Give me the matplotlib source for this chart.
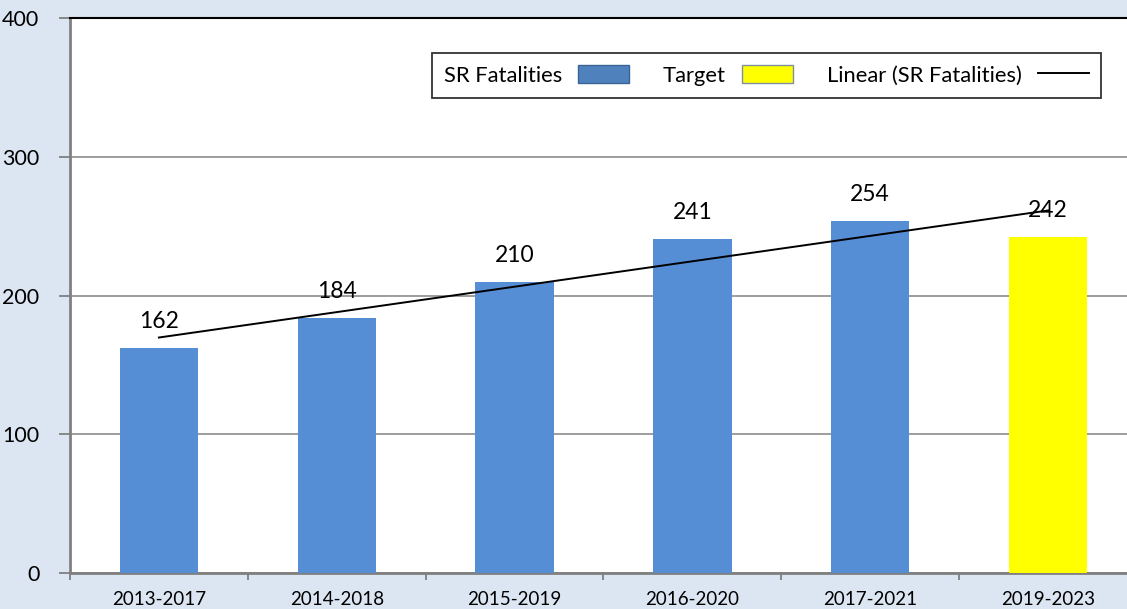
import numpy as np
import matplotlib.pyplot as plt
from matplotlib.patches import Patch
from matplotlib.lines import Line2D

periods = ['2013-2017', '2014-2018', '2015-2019', '2016-2020', '2017-2021', '2019-2023']
fatalities = [162, 184, 210, 241, 254, 242]
bar_colors = ['#558ed5'] * 5 + ['#ffff00']

plt.rcParams['font.family'] = ['Lato', 'DejaVu Sans']

fig = plt.figure(figsize=(11.27, 6.09), dpi=100, facecolor='#dce6f2')
ax = fig.add_axes([70 / 1127, 1 - 573 / 609, 1067 / 1127, 555 / 609])
ax.set_facecolor('white')

x = np.arange(len(periods))
ax.bar(x, fatalities, width=0.44, color=bar_colors, zorder=3)

# linear trend over all bars
k, b = np.polyfit(x, fatalities, 1)
ax.plot([x[0], x[-1]], [k * x[0] + b, k * x[-1] + b], color='black', lw=1.4, zorder=4)

for xi, v in zip(x, fatalities):
    ax.text(xi, v + 19, str(v), ha='center', va='center', fontsize=16.5, zorder=5)

ax.set_xlim(-0.5, 5.5)
ax.set_ylim(0, 400)
ax.set_yticks([0, 100, 200, 300, 400])
ax.set_xticks(x)
ax.set_xticklabels(periods, fontsize=13.5)
ax.set_xticks(np.arange(-0.5, 6, 1), minor=True)
ax.tick_params(axis='x', which='major', length=0, pad=13)
ax.tick_params(axis='x', which='minor', length=5, color='#808080', width=1.3)
ax.tick_params(axis='y', length=8, color='#808080', width=1.3, labelsize=15.5, pad=14)
ax.grid(axis='y', color='#8c8c8c', lw=1.2, zorder=0)

for s in ['left', 'bottom']:
    ax.spines[s].set_color('#808080')
    ax.spines[s].set_linewidth(2)
ax.spines['top'].set_color('black')
ax.spines['top'].set_linewidth(1.5)
ax.spines['right'].set_visible(False)

handles = [Patch(facecolor='#4f81bd', edgecolor='#3a6494'),
           Patch(facecolor='#ffff00', edgecolor='#7f8f9f'),
           Line2D([0], [0], color='black', lw=1.4)]
labels = ['SR Fatalities', 'Target', 'Linear (SR Fatalities)']
leg = ax.legend(handles, labels, ncol=3, markerfirst=False, loc='upper left',
                bbox_to_anchor=(0.339, 0.852, 0.627, 0.085), mode='expand',
                fontsize=15.8, frameon=True,
                fancybox=False, edgecolor='black', handlelength=2.3,
                handleheight=0.9, handletextpad=0.75, columnspacing=0.9,
                borderpad=0.55, borderaxespad=0)
leg.get_frame().set_linewidth(1.3)
leg.set_zorder(6)

fig.savefig('out.png', dpi=100, facecolor=fig.get_facecolor())
